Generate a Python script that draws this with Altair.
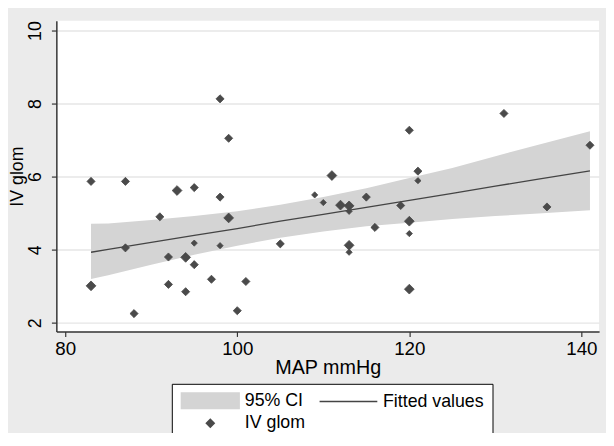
import altair as alt
import pandas as pd

# ---- data ----
map_mmhg = [98, 99, 83, 87, 93, 95, 98, 109, 91, 99, 87, 95, 98, 105, 92, 94, 95, 83,
            97, 101, 92, 94, 88, 100, 131, 120, 141, 121, 121, 111, 110, 112, 113, 113,
            115, 116, 119, 120, 120, 113, 113, 136, 120]
iv_glom = [8.13, 7.05, 5.87, 5.87, 5.62, 5.70, 5.44, 5.50, 4.90, 4.87, 4.05, 4.18, 4.11,
           4.16, 3.80, 3.79, 3.59, 3.01, 3.19, 3.13, 3.05, 2.85, 2.25, 2.33, 7.73, 7.27,
           6.86, 6.15, 5.89, 6.03, 5.29, 5.22, 5.20, 5.05, 5.44, 4.61, 5.21, 4.78, 4.44,
           4.12, 3.93, 5.17, 2.92]
marker_kind = ["M", "M", "M", "M", "L", "M", "M", "S", "M", "L", "M", "S", "S",
               "M", "M", "L", "M", "L", "M", "M", "M", "M", "M", "M", "M", "M",
               "M", "M", "S", "L", "S", "L", "L", "S", "M", "M", "M", "L", "S",
               "L", "S", "M", "L"]

fit_x = [83, 85, 90, 95, 100, 105, 110, 115, 120, 125, 130, 135, 141]
fit_y = [3.93, 4.01, 4.20, 4.39, 4.58, 4.78, 4.97, 5.16, 5.35, 5.54, 5.74, 5.93, 6.16]
ci_lower = [3.20, 3.30, 3.59, 3.86, 4.11, 4.33, 4.50, 4.64, 4.74, 4.84, 4.92, 4.99, 5.08]
ci_upper = [4.71, 4.72, 4.81, 4.92, 5.05, 5.23, 5.44, 5.68, 5.96, 6.24, 6.56, 6.87, 7.24]

legend_labels = ["95% CI", "Fitted values", "IV glom"]
x_ticks = [80, 100, 120, 140]
y_ticks = [2, 4, 6, 8, 10]

# ---- styling ----
FONT = "Liberation Sans"
BAND = "#d4d4d4"
LINE = "#444444"
DOT = "#4a4a4a"
size_map = {"S": 140, "M": 240, "L": 350}
RECT_PATH = "M-3.9,-1.05H3.9V1.05H-3.9Z"
LINE_PATH = "M-3.9,0H3.9"
DIAMOND_PATH = "M0,-0.53L0.53,0L0,0.53L-0.53,0Z"

df_pts = pd.DataFrame({
    "map": map_mmhg,
    "iv": iv_glom,
    "series": "IV glom",
    "size": [size_map[k] for k in marker_kind],
})
df_fit = pd.DataFrame({"map": fit_x, "fit": fit_y, "lo": ci_lower, "hi": ci_upper})

xscale = alt.Scale(domain=[78.97, 142.06], nice=False, zero=False)
yscale = alt.Scale(domain=[1.76, 10.27], nice=False, zero=False)

xaxis = alt.Axis(values=x_ticks, grid=False, domainColor="#333333", domainWidth=1.5,
                 tickColor="#333333", tickWidth=1.2, tickSize=5, labelFontSize=19,
                 labelPadding=3, labelFont=FONT, labelColor="black", title="MAP mmHg",
                 titleFont=FONT, titleFontSize=20, titleFontWeight="normal",
                 titleColor="black", titlePadding=0)
yaxis = alt.Axis(values=y_ticks, grid=True, gridColor="#e6e6e6", gridWidth=1.5,
                 domainColor="#333333", domainWidth=1.5, tickColor="#333333",
                 tickWidth=1.2, tickSize=5, labelAngle=270, labelFontSize=18,
                 labelPadding=7, labelFont=FONT, labelColor="black", title="IV glom",
                 titleFont=FONT, titleFontSize=18, titleFontWeight="normal",
                 titleColor="black", titlePadding=0)

leg = alt.Legend(title=None, orient="none", legendX=117, legendY=368, columns=2,
                 direction="horizontal",
                 columnPadding=10, rowPadding=3, padding=8, fillColor="white",
                 strokeColor="black", symbolSize=225, symbolOffset=22, labelOffset=26,
                 labelFontSize=18, labelFont=FONT, labelColor="black",
                 symbolStrokeWidth=1.5, cornerRadius=0)

band = alt.Chart(df_fit).mark_area(color=BAND, opacity=1).encode(
    x=alt.X("map:Q", scale=xscale, axis=xaxis),
    y=alt.Y("lo:Q", scale=yscale, axis=yaxis),
    y2="hi:Q",
)
line = alt.Chart(df_fit).mark_line(color=LINE, strokeWidth=1.3).encode(
    x=alt.X("map:Q", scale=xscale),
    y=alt.Y("fit:Q", scale=yscale),
)
points = alt.Chart(df_pts).mark_point(filled=True, opacity=1, strokeWidth=0.8).encode(
    x=alt.X("map:Q", scale=xscale),
    y=alt.Y("iv:Q", scale=yscale),
    fill=alt.Fill("series:N", scale=alt.Scale(domain=legend_labels, range=[BAND, LINE, DOT]), legend=leg),
    stroke=alt.Stroke("series:N", scale=alt.Scale(domain=legend_labels, range=[BAND, LINE, DOT]), legend=leg),
    shape=alt.Shape("series:N", scale=alt.Scale(domain=legend_labels, range=[RECT_PATH, LINE_PATH, DIAMOND_PATH]), legend=leg),
    size=alt.Size("size:Q", scale=None, legend=None),
)

chart = alt.layer(band, line, points).properties(
    width=550, height=315,
    background="#ebebeb",
    padding={"left": 49, "top": 10, "right": 7, "bottom": 100},
    autosize=alt.AutoSizeParams(type="none"),
).configure_view(fill="white", stroke=None)

chart.save("out.html", embed_options={"renderer": "svg", "actions": False})
